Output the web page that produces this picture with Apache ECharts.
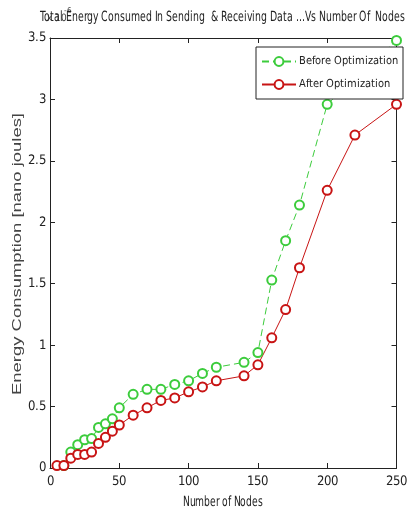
<!DOCTYPE html>
<html><head><meta charset="utf-8">
<script src="https://cdn.jsdelivr.net/npm/echarts@6/dist/echarts.min.js"></script>
<style>
@font-face { font-family: 'NarrowX'; src: local('Liberation Sans Narrow'), local('LiberationSansNarrow-Regular'), local('DejaVu Sans Condensed'), local('DejaVuSansCondensed'); }
html,body{margin:0;padding:0;background:#fff}#c{width:410px;height:512px}
</style>
</head><body><div id="c"></div>
<script>
const titleText = 'Total Energy Consumed In Sending  & Receiving Data ...Vs Number Of  Nodes';
const yName = 'Energy Consumption [nano joules]';
const xName = 'Number of Nodes';
const xTicks = [0, 50, 100, 150, 200, 250];
const yTicks = [0, 0.5, 1, 1.5, 2, 2.5, 3, 3.5];
const nodesBefore = [10,15,20,25,30,35,40,45,50,60,70,80,90,100,110,120,140,150,160,170,180,200,250];
const before =      [0.02,0.13,0.19,0.23,0.24,0.33,0.36,0.40,0.49,0.60,0.64,0.64,0.68,0.71,0.77,0.82,0.86,0.94,1.53,1.85,2.14,2.96,3.48];
const nodesAfter = [5,10,15,20,25,30,35,40,45,50,60,70,80,90,100,110,120,140,150,160,170,180,200,220,250];
const after =      [0.02,0.02,0.08,0.11,0.11,0.13,0.20,0.25,0.30,0.35,0.43,0.49,0.55,0.57,0.62,0.66,0.71,0.75,0.84,1.06,1.29,1.63,2.26,2.71,2.96];

const narrow = 'NarrowX, "Liberation Sans Narrow", sans-serif';
function measure(text, font) {
  const cv = document.createElement('canvas').getContext('2d');
  cv.font = font; return cv.measureText(text).width;
}
function draw() {
  const chart = echarts.init(document.getElementById('c'), null, {renderer: 'canvas'});
  const titleW = measure(titleText, '14px ' + narrow);
  const titleScale = Math.min(1, 365 / titleW);
  const yNameW = measure(yName, '12px "Liberation Sans", Arial, sans-serif');
  const yNameScale = 282 / yNameW;
  const legW = measure('Before Optimization', '13px ' + narrow);
  const legSize = Math.min(13, Math.floor(13 * 93 / legW * 10) / 10);
  const xNameW = measure(xName, '14px ' + narrow);
  const xNameScale = Math.min(1, 80 / xNameW);
  const tickSize = measure('250', '13px ' + narrow) > 22 ? 12 : 13;
  const axisLine = {show: true, onZero: false, lineStyle: {color: '#222', width: 1}};
  const tick = {show: true, inside: true, length: 5, lineStyle: {color: '#222'}};
  chart.setOption({
    animation: false,
    backgroundColor: '#fff',
    grid: {left: 50, right: 10, top: 38, bottom: 44, containLabel: false},
    legend: {
      orient: 'vertical', left: 256, top: 47,
      borderColor: '#222', borderWidth: 1, backgroundColor: '#fff',
      padding: [9, 5, 9, 5], itemGap: 12, itemWidth: 34, itemHeight: 11,
      textStyle: {fontFamily: narrow, fontSize: legSize, color: '#222', padding: [0, 0, 0, -2]},
      data: ['Before Optimization', 'After Optimization']
    },
    graphic: [
      {type: 'text', x: 40, y: 10, scaleX: titleScale, style: {text: titleText, font: '14px ' + narrow, fill: '#222'}, z: 10},
      {type: 'text', x: 47, y: 13, style: {text: 'x 10', font: '10px ' + narrow, fill: '#444'}},
      {type: 'text', x: 64, y: 7, style: {text: '-6', font: '8px ' + narrow, fill: '#444'}},
      {type: 'text', x: 223, y: 502, scaleX: xNameScale, style: {text: xName, font: '14px ' + narrow, fill: '#222', align: 'center', verticalAlign: 'middle'}},
      {type: 'text', x: 18, y: 254, rotation: Math.PI / 2, scaleX: yNameScale, style: {text: yName, font: '12px "Liberation Sans", Arial, sans-serif', fill: '#444', align: 'center', verticalAlign: 'middle'}}
    ],
    xAxis: [{
      type: 'value', min: 0, max: 250, interval: 50,
      axisLine: axisLine, axisTick: tick,
      axisLabel: {fontFamily: narrow, fontSize: tickSize, color: '#222', margin: 7},
      splitLine: {show: false}
    }, {
      type: 'value', position: 'top', min: 0, max: 250, interval: 50,
      axisLine: axisLine, axisTick: tick,
      axisLabel: {show: false}, splitLine: {show: false}
    }],
    yAxis: [{
      type: 'value', min: 0, max: 3.5, interval: 0.5,
      axisLine: axisLine, axisTick: tick,
      axisLabel: {fontFamily: narrow, fontSize: tickSize, color: '#222', margin: 4, formatter: v => String(v)},
      splitLine: {show: false}
    }, {
      type: 'value', position: 'right', min: 0, max: 3.5, interval: 0.5,
      axisLine: axisLine, axisTick: tick,
      axisLabel: {show: false}, splitLine: {show: false}
    }],
    series: [{
      name: 'Before Optimization', type: 'line',
      data: nodesBefore.map((n, i) => [n, before[i]]),
      symbol: 'emptyCircle', symbolSize: 9, showAllSymbol: true,
      lineStyle: {color: '#3ccc3c', width: 1, type: [7, 4]},
      itemStyle: {color: '#3ccc3c', borderWidth: 1},
      clip: false
    }, {
      name: 'After Optimization', type: 'line',
      data: nodesAfter.map((n, i) => [n, after[i]]),
      symbol: 'emptyCircle', symbolSize: 9, showAllSymbol: true,
      lineStyle: {color: '#c81414', width: 1},
      itemStyle: {color: '#c81414', borderWidth: 1},
      clip: false
    }]
  });
}
if (document.fonts && document.fonts.load) {
  document.fonts.load('13px NarrowX').then(draw, draw);
} else { draw(); }
</script></body></html>
